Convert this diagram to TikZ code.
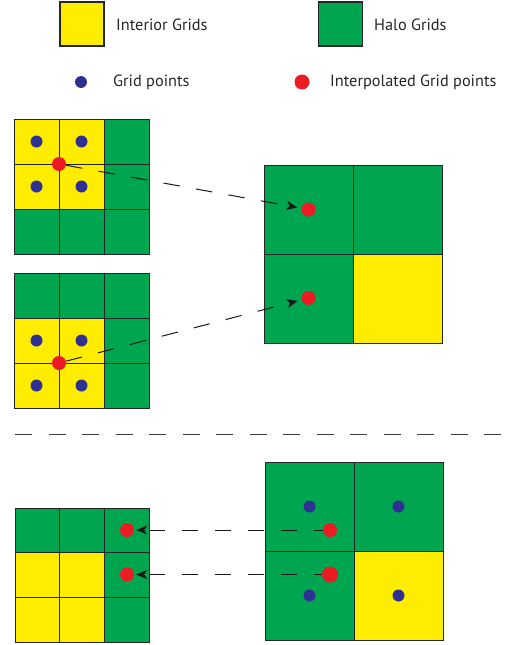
\documentclass[tikz,border=0pt]{standalone}
\usepackage{fontspec}
\setmainfont{PT Sans}
\usetikzlibrary{arrows.meta}
\definecolor{ylw}{RGB}{255,237,0}
\definecolor{grn}{RGB}{0,165,80}
\definecolor{blu}{RGB}{46,49,146}
\definecolor{rd}{RGB}{237,28,36}
\newcommand\gcell[4]{\draw[cellbox,fill=#4] (#1,#2) rectangle ++(#3,#3);}
\begin{document}
\begin{tikzpicture}[x=1pt,y=-1pt,
 cellbox/.style={draw=black!85, line width=0.9pt},
 legendbox/.style={draw=black!85, line width=1.2pt, minimum size=44pt, inner sep=0pt},
 gpt/.style={circle, fill=blu, inner sep=0pt, minimum size=12pt},
 ipt/.style={circle, fill=rd, inner sep=0pt, minimum size=14pt},
 lbl/.style={anchor=base west, font=\fontsize{16.3}{19}\selectfont, text=black!85, inner sep=0pt},
 link/.style={draw=black!90, line width=1pt, dash pattern=on 16.5pt off 16.5pt, -{Stealth[length=11pt,width=9pt,inset=3pt]}},
 sep/.style={draw=black!75, line width=1pt, dash pattern=on 17pt off 16.5pt}
]
\useasboundingbox (0,0) rectangle (508,645);
% legend
\node[legendbox, fill=ylw] (ly) at (82,24) {};
\node[legendbox, fill=grn] (lg) at (340.5,24) {};
\node[lbl] (lyt) at (116,30.7) {Interior Grids};
\node[lbl] (lgt) at (374,30.7) {Halo Grids};
\node[gpt] (lb) at (81,82) {};
\node[ipt, minimum size=15pt] (lr) at (302,82) {};
\node[lbl] (lbt) at (113,86.7) {Grid points};
\node[lbl] (lrt) at (330,86.7) {Interpolated Grid points};
% grid 1
\foreach \c/\r/\col in {0/0/ylw,1/0/ylw,2/0/grn,0/1/ylw,1/1/ylw,2/1/grn,0/2/grn,1/2/grn,2/2/grn}
  {\gcell{14+\c*45}{119+\r*45}{45}{\col}}
% grid 2
\foreach \c/\r/\col in {0/0/grn,1/0/grn,2/0/grn,0/1/ylw,1/1/ylw,2/1/grn,0/2/ylw,1/2/ylw,2/2/grn}
  {\gcell{14+\c*45}{273+\r*45}{45}{\col}}
% big grid 1
\foreach \c/\r/\col in {0/0/grn,1/0/grn,0/1/grn,1/1/ylw}
  {\gcell{264+\c*89}{165+\r*89}{89}{\col}}
% grid 3
\foreach \c/\r/\col in {0/0/grn,1/0/grn,2/0/grn,0/1/ylw,1/1/ylw,2/1/grn,0/2/ylw,1/2/ylw,2/2/grn}
  {\gcell{15+\c*44.7}{508+\r*44.7}{44.7}{\col}}
% big grid 2
\foreach \c/\r/\col in {0/0/grn,1/0/grn,0/1/grn,1/1/ylw}
  {\gcell{265+\c*89}{462+\r*89}{89}{\col}}
% grid points
\node[gpt] (a1) at (36.5,141.5) {};
\node[gpt] (a2) at (81.5,141.5) {};
\node[gpt] (a3) at (36.5,186.5) {};
\node[gpt] (a4) at (81.5,186.5) {};
\node[gpt] (b1) at (36.5,340.5) {};
\node[gpt] (b2) at (81.5,340.5) {};
\node[gpt] (b3) at (36.5,385.5) {};
\node[gpt] (b4) at (81.5,385.5) {};
\node[gpt] (c1) at (309.5,506.5) {};
\node[gpt] (c2) at (398.5,506.5) {};
\node[gpt] (c3) at (309.5,595.5) {};
\node[gpt] (c4) at (398.5,595.5) {};
% interpolated points
\node[ipt] (r1) at (59,164) {};
\node[ipt] (r2) at (59,363) {};
\node[ipt] (t1) at (308.5,209.5) {};
\node[ipt] (t2) at (308.5,298) {};
\node[ipt] (s1) at (127,530) {};
\node[ipt] (s2) at (127,574.5) {};
\coordinate (u1) at (330,530);
\coordinate (u2) at (330,574.5);
% connectors
\draw[link, shorten >=4pt] (r1) -- (t1);
\draw[link, shorten >=4pt] (r2) -- (t2);
\draw[link, shorten >=2pt] (u1) -- (s1);
\draw[link, shorten >=2pt] (u2) -- (s2);
\node[ipt] (v1) at (u1) {};
\node[ipt, minimum size=16pt] (v2) at (u2) {};
% separator
\draw[sep] (15,434.7) -- (501,434.7);
\end{tikzpicture}
\end{document}
